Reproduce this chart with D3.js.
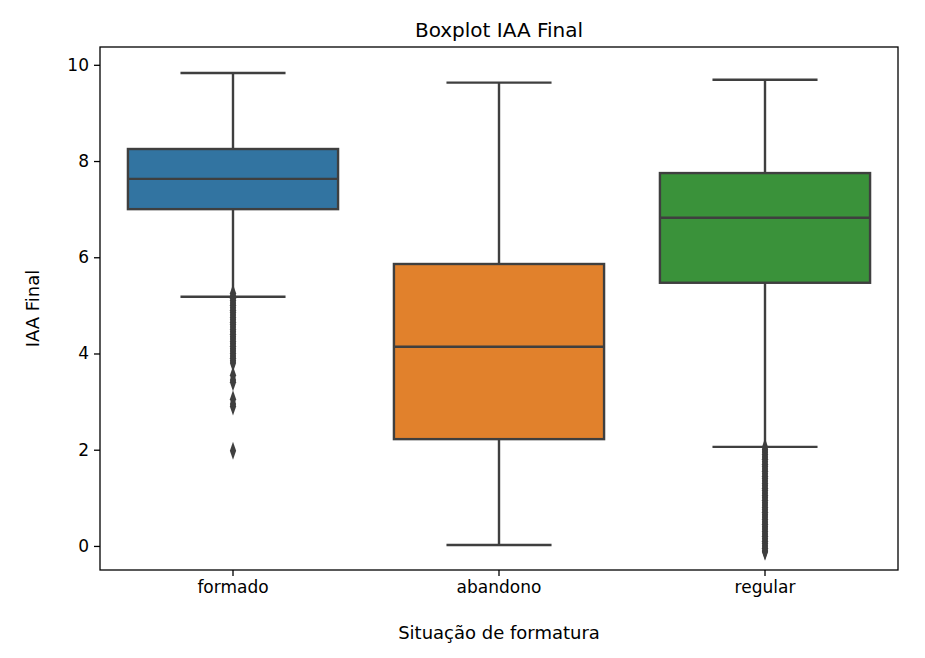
<!DOCTYPE html>
<html><head><meta charset="utf-8">
<script src="https://cdn.jsdelivr.net/npm/d3@7"></script>
<style>body{margin:0;background:#fff}</style>
</head><body>
<script>
const categories = ["formado", "abandono", "regular"];
const colors = ["#3274a1", "#e1812c", "#3a923a"];
// [lowWhisker, q1, median, q3, highWhisker]
const stats = [
  [5.18, 7.0, 7.63, 8.25, 9.83],
  [0.02, 2.22, 4.14, 5.86, 9.63],
  [2.06, 5.47, 6.82, 7.75, 9.69]
];
const outliersFormado = [5.25,5.2,5.15,5.1,5.05,5.0,4.95,4.9,4.85,4.8,4.75,4.7,4.65,4.6,4.55,4.5,4.45,4.4,4.35,4.3,4.25,4.2,4.15,4.1,4.05,4.0,3.95,3.9,3.85,3.8,3.55,3.45,3.4,3.05,2.95,2.9,1.98];
const outliersAbandono = [];
const outliersRegular = [2.05,2.0,1.95,1.9,1.85,1.8,1.75,1.7,1.65,1.6,1.55,1.5,1.45,1.4,1.35,1.3,1.25,1.2,1.15,1.1,1.05,1.0,0.95,0.9,0.85,0.8,0.75,0.7,0.65,0.6,0.55,0.5,0.45,0.4,0.35,0.3,0.25,0.2,0.15,0.1,0.05,0.0,-0.05,-0.1,-0.12];
const outliers = [outliersFormado, outliersAbandono, outliersRegular];
const yTicks = [0, 2, 4, 6, 8, 10];

const W = 925, H = 658;
const m = {left: 100, right: 27, top: 47, bottom: 88};
const svg = d3.select("body").append("svg").attr("width", W).attr("height", H)
  .style("font-family", "DejaVu Sans");

const x = d3.scaleBand(categories, [m.left, W - m.right]);
const y = d3.scaleLinear([-0.5, 10.37], [H - m.bottom, m.top]);
const bw = x.bandwidth() * 0.79;
const line = "#3f3f3f";

categories.forEach((c, i) => {
  const s = stats[i], cx = x(c) + x.bandwidth() / 2;
  const g = svg.append("g");
  g.append("line").attr("x1", cx).attr("x2", cx).attr("y1", y(s[0])).attr("y2", y(s[1]))
    .attr("stroke", line).attr("stroke-width", 2.4);
  g.append("line").attr("x1", cx).attr("x2", cx).attr("y1", y(s[3])).attr("y2", y(s[4]))
    .attr("stroke", line).attr("stroke-width", 2.4);
  [s[0], s[4]].forEach(v => g.append("line")
    .attr("x1", cx - bw / 4).attr("x2", cx + bw / 4).attr("y1", y(v)).attr("y2", y(v))
    .attr("stroke", line).attr("stroke-width", 2.4));
  g.append("rect").attr("x", cx - bw / 2).attr("width", bw)
    .attr("y", y(s[3])).attr("height", y(s[1]) - y(s[3]))
    .attr("fill", colors[i]).attr("stroke", line).attr("stroke-width", 2.4);
  g.append("line").attr("x1", cx - bw / 2).attr("x2", cx + bw / 2).attr("y1", y(s[2])).attr("y2", y(s[2]))
    .attr("stroke", line).attr("stroke-width", 2.4);
  g.selectAll("path.o").data(outliers[i]).join("path")
    .attr("d", d3.symbol(d3.symbolDiamond, 60))
    .attr("transform", d => `translate(${cx},${y(d)}) scale(0.75,1.25)`)
    .attr("fill", line);
});

svg.append("rect").attr("x", m.left).attr("y", m.top)
  .attr("width", W - m.left - m.right).attr("height", H - m.top - m.bottom)
  .attr("fill", "none").attr("stroke", "#000").attr("stroke-width", 1.3);

const xa = svg.append("g").attr("transform", `translate(0,${H - m.bottom})`)
  .call(d3.axisBottom(x).tickSizeOuter(0).tickSize(6).tickPadding(5));
const ya = svg.append("g").attr("transform", `translate(${m.left},0)`)
  .call(d3.axisLeft(y).tickValues(yTicks).tickSizeOuter(0).tickSize(6).tickPadding(5));
[xa, ya].forEach(a => {
  a.select(".domain").remove();
  a.selectAll("text").attr("font-size", 17).attr("font-family", "DejaVu Sans").attr("fill", "#000");
  a.selectAll("line").attr("stroke", "#000").attr("stroke-width", 1.3);
});

svg.append("text").attr("x", (m.left + W - m.right) / 2).attr("y", 37)
  .attr("text-anchor", "middle").attr("font-size", 20).text("Boxplot IAA Final");
svg.append("text").attr("x", (m.left + W - m.right) / 2).attr("y", 639)
  .attr("text-anchor", "middle").attr("font-size", 18).text("Situação de formatura");
svg.append("text").attr("transform", `translate(39,${(m.top + H - m.bottom) / 2}) rotate(-90)`)
  .attr("text-anchor", "middle").attr("font-size", 18).text("IAA Final");
</script>
</body></html>
